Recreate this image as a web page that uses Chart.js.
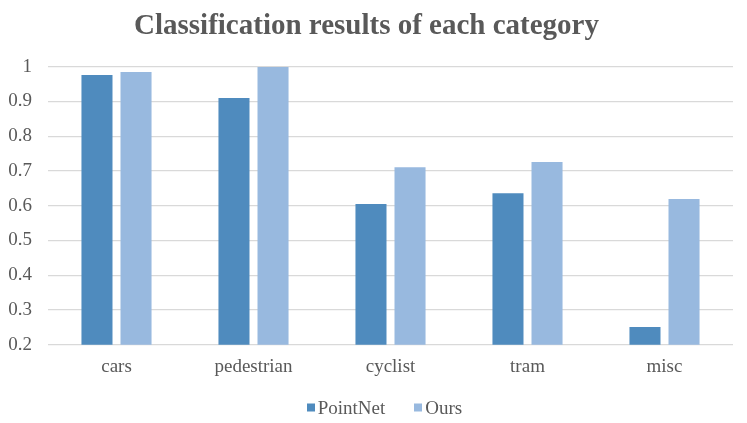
<!DOCTYPE html>
<html>
<head>
<meta charset="utf-8">
<script src="https://cdn.jsdelivr.net/npm/chart.js@4/dist/chart.umd.min.js"></script>
<style>
  html, body { margin: 0; padding: 0; background: #ffffff; }
  #wrap { width: 747px; height: 423px; }
</style>
</head>
<body>
<div id="wrap"><canvas id="c" width="747" height="423"></canvas></div>
<script>
const categories = ["cars", "pedestrian", "cyclist", "tram", "misc"];
const pointNetValues = [0.976, 0.910, 0.605, 0.636, 0.251];
const oursValues = [0.985, 0.999, 0.711, 0.726, 0.619];
const yTicks = [0.2, 0.3, 0.4, 0.5, 0.6, 0.7, 0.8, 0.9, 1];
const seriesNames = ["PointNet", "Ours"];

const serif = "'Liberation Serif', 'Times New Roman', serif";
const textColor = "#595959";

// Office-style legend: small square, tight gap to text, wide gap between items.
const officeLegend = {
  id: "officeLegend",
  afterDraw(chart) {
    const ctx = chart.ctx;
    const font = "19px " + serif;
    const box = 8, boxGap = 3, itemGap = 29;
    const baseline = 414;
    ctx.save();
    ctx.font = font;
    const items = chart.data.datasets.map(ds => ({
      text: ds.label, color: ds.backgroundColor, w: ctx.measureText(ds.label).width
    }));
    let total = 0;
    items.forEach((it, i) => { total += box + boxGap + it.w + (i ? itemGap : 0); });
    let x = 384.5 - total / 2;
    items.forEach((it) => {
      ctx.fillStyle = it.color;
      ctx.fillRect(Math.round(x), baseline - 10.5, box, box);
      ctx.fillStyle = textColor;
      ctx.textBaseline = "alphabetic";
      ctx.textAlign = "left";
      ctx.fillText(it.text, x + box + boxGap, baseline);
      x += box + boxGap + it.w + itemGap;
    });
    ctx.restore();
  }
};

new Chart(document.getElementById("c"), {
  type: "bar",
  data: {
    labels: categories,
    datasets: [
      { label: seriesNames[0], data: pointNetValues, backgroundColor: "#4f8bbe",
        categoryPercentage: 0.57, barPercentage: 0.795 },
      { label: seriesNames[1], data: oursValues, backgroundColor: "#98b9df",
        categoryPercentage: 0.57, barPercentage: 0.795 }
    ]
  },
  plugins: [officeLegend],
  options: {
    responsive: false,
    animation: false,
    devicePixelRatio: 1,
    layout: { padding: { left: 0, right: 14, top: 0, bottom: 44.5 } },
    plugins: {
      title: {
        display: true,
        text: "Classification results of each category",
        color: textColor,
        font: { family: serif, size: 29, weight: "bold", lineHeight: 1.2 },
        padding: { top: 9, bottom: 22.9 }
      },
      legend: { display: false },
      tooltip: { enabled: false }
    },
    scales: {
      x: {
        grid: { display: false, drawTicks: false },
        border: { display: false },
        ticks: { color: textColor, font: { family: serif, size: 19 }, padding: 10.5 },
        afterFit: (s) => { s.height = 33.8; }
      },
      y: {
        min: 0.2,
        max: 1,
        afterBuildTicks: (s) => { s.ticks = yTicks.map(v => ({ value: v })); },
        grid: { color: "#d9d9d9", lineWidth: 1.3, drawTicks: false },
        border: { display: false },
        ticks: {
          color: textColor,
          font: { family: serif, size: 19 },
          padding: 16,
          callback: (v) => String(Math.round(v * 10) / 10)
        },
        afterFit: (s) => { s.width = 48; }
      }
    }
  }
});
</script>
</body>
</html>
